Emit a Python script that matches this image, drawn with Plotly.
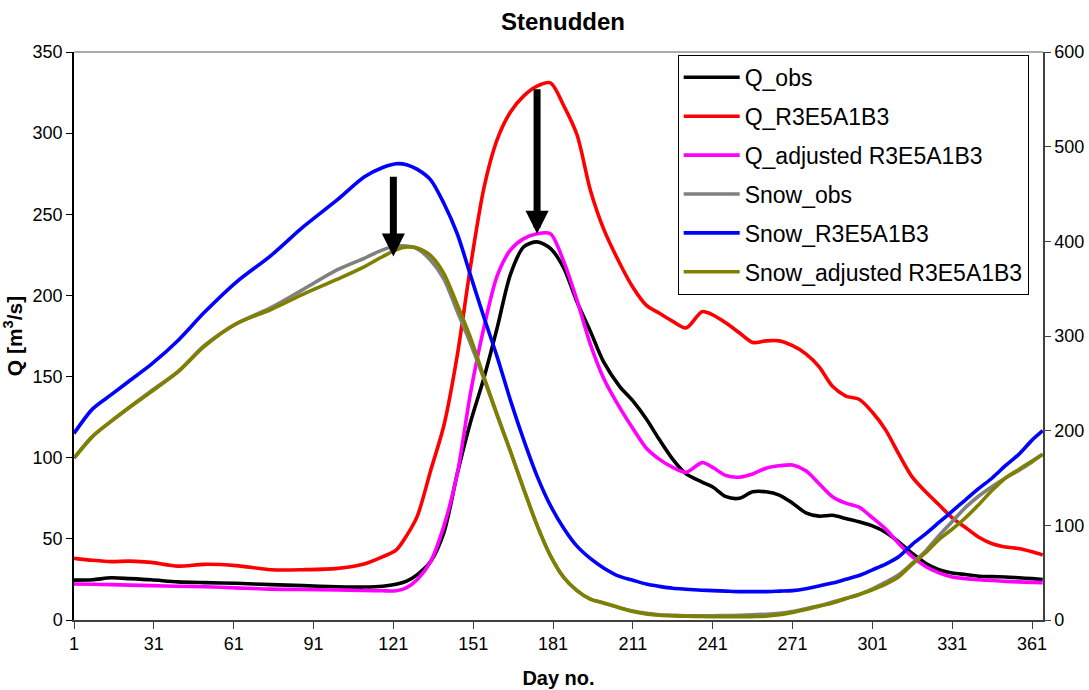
import plotly.graph_objects as go

days = [1, 8, 15, 22, 30, 40, 50, 62, 75, 87, 100, 110, 117, 122, 126, 130, 135, 140, 145, 150,
        155, 160, 165, 170, 175, 180, 185, 190, 195, 200, 206, 211, 216, 221, 226, 231, 237, 241,
        246, 251, 256, 261, 266, 271, 276, 281, 286, 291, 296, 301, 306, 311, 316, 321, 326, 331,
        336, 341, 346, 351, 356, 361, 365]

q_obs = [24.6, 24.8, 26, 25.5, 24.8, 23.5, 23, 22.6, 21.8, 21.2, 20.5, 20.3, 20.8, 22, 24, 28, 36,
         54, 90, 122, 149, 180, 213, 230, 233, 229, 217, 196, 178, 159, 144, 135, 124, 111, 99, 90,
         85, 82, 76, 75, 79, 79, 77, 72, 66, 64, 64.5, 62.5, 60.5, 58, 54, 48, 41, 35, 31, 29, 28,
         27, 26.7, 26.5, 26, 25.5, 25]

q_r = [38, 36.8, 36, 36.3, 35.5, 33.2, 34.3, 33.5, 31, 31, 31.8, 34.5, 39, 43, 52, 64, 92, 120,
       163, 218, 266, 296, 313, 323, 329, 331, 317, 299, 265, 241, 220, 205, 194, 189, 184, 180,
       190, 188, 183, 177, 171, 172, 172, 169, 164, 156, 144, 138, 136, 128, 117, 102, 88, 79, 71,
       63, 57, 51, 47, 45, 44, 42, 40]

q_adj = [22.2, 22, 21.8, 21.5, 21.2, 20.8, 20.5, 19.8, 19, 18.8, 18.5, 18.2, 18, 18, 20, 25, 36, 58,
         90, 140, 180, 212, 228, 235, 238, 238, 221, 197, 170, 149, 131, 118, 106, 99, 94, 91, 97,
         94, 89, 88, 90, 93.5, 95, 95.5, 92, 84, 76, 72, 69.5, 63, 56, 47, 39, 33, 29, 26.5, 25.5,
         24.8, 24.3, 23.8, 23.5, 23.2, 23]

snow_obs = [171, 194, 210, 225, 242, 262, 290, 313, 330, 349, 370, 382, 391, 395, 395, 392, 380,
            360, 326, 292, 255, 216, 178, 138, 100, 68, 45, 31, 22, 18, 13, 9.5, 7, 5.5, 5, 4.5,
            4.5, 4.5, 4.7, 5, 5.5, 6, 7, 9, 12, 15, 19, 23, 27, 33, 40, 48, 60, 73, 89, 104, 119,
            131, 141, 150, 158, 167, 175]

snow_r = [197, 223, 238, 253, 270, 295, 325, 357, 385, 415, 444, 468, 478, 482, 481, 476, 465, 440,
          408, 364, 320, 278, 232, 190, 152, 121, 97, 78, 65, 55, 46, 42, 38, 35.5, 33.5, 32.5,
          31.5, 31, 30.5, 30, 30, 30, 30.5, 31, 33, 36, 39, 43, 47, 53, 59, 67, 80, 91, 103, 115,
          127, 139, 150, 163, 175, 190, 200]

snow_adj = [171, 194, 210, 225, 241, 262, 289, 313, 328, 344, 360, 373, 384, 391, 394, 393, 385,
            366, 333, 298, 257, 217, 178, 138, 100, 68, 45, 31, 22, 18, 13, 9, 6.5, 5, 4.3, 4, 3.7,
            3.5, 3.5, 3.5, 3.6, 4, 5.5, 8, 11, 14.5, 18, 22.5, 27, 32, 38, 46, 59, 71, 85, 96, 108,
            122, 137, 150, 159, 168, 175]

x_ticks = [1, 31, 61, 91, 121, 151, 181, 211, 241, 271, 301, 331, 361]

# arrows: (day, tail value, tip value) on the left axis
arrow_day = [121, 175]
arrow_tail = [274, 328]
arrow_tip = [224, 238]

FONT = "Arial, Liberation Sans, sans-serif"

series = [
    ("Q_obs", q_obs, "#000000", "y"),
    ("Q_R3E5A1B3", q_r, "#FF0000", "y"),
    ("Q_adjusted R3E5A1B3", q_adj, "#FF00FF", "y"),
    ("Snow_obs", snow_obs, "#808080", "y2"),
    ("Snow_R3E5A1B3", snow_r, "#0000FF", "y2"),
    ("Snow_adjusted R3E5A1B3", snow_adj, "#808000", "y2"),
]

fig = go.Figure()
for name, vals, col, ax in series:
    fig.add_trace(go.Scatter(
        x=days, y=vals, name=name, mode="lines", yaxis=ax,
        line=dict(color=col, width=3.6, shape="spline", smoothing=0.8),
        legendgroup=name,
    ))

for d, t0, t1 in zip(arrow_day, arrow_tail, arrow_tip):
    fig.add_annotation(
        x=d, y=t1, ax=d, ay=t0, xref="x", yref="y", axref="x", ayref="y",
        text="", showarrow=True, arrowhead=2, arrowsize=0.66, arrowwidth=7,
        arrowcolor="#000000",
    )

fig.add_shape(type="line", xref="paper", yref="paper", x0=0, x1=1, y0=1, y1=1,
              line=dict(color="#909090", width=1.5))

fig.update_layout(
    width=1089, height=690,
    margin=dict(l=74, r=46, t=52, b=70, autoexpand=False),
    paper_bgcolor="white", plot_bgcolor="white",
    font=dict(family=FONT, size=18, color="black"),
    title=dict(text="<b>Stenudden</b>", x=0.517, xanchor="center", y=0.968, yanchor="middle",
               font=dict(size=24, family=FONT)),
    showlegend=True,
    legend=dict(x=0.623, y=0.995, xanchor="left", yanchor="top",
                bgcolor="white", bordercolor="black", borderwidth=1,
                font=dict(size=23, family=FONT), tracegroupgap=6, itemwidth=56),
    xaxis=dict(range=[1, 365.1], tickvals=x_ticks, showgrid=False, zeroline=False,
               automargin=False,
               showline=True, linecolor="#404040", linewidth=1.5,
               ticks="outside", ticklen=7, tickcolor="#404040",
               tickfont=dict(size=18),
               title=dict(text="<b>Day no.</b>", font=dict(size=20), standoff=18)),
    yaxis=dict(range=[0, 350], dtick=50, showgrid=False, zeroline=False,
               automargin=False,
               showline=True, linecolor="#000000", linewidth=1.5,
               ticks="outside", ticklen=6, tickcolor="#000000",
               tickfont=dict(size=18),
               title=dict(text="<b>Q [m<sup>3</sup>/s]</b>", font=dict(size=21), standoff=4)),
    yaxis2=dict(range=[0, 600], dtick=100, overlaying="y", side="right",
                automargin=False,
                showgrid=False, zeroline=False,
                showline=True, linecolor="#404040", linewidth=1.5,
                ticks="outside", ticklen=6, tickcolor="#404040",
                tickfont=dict(size=18)),
)

fig.write_html("out.html")
